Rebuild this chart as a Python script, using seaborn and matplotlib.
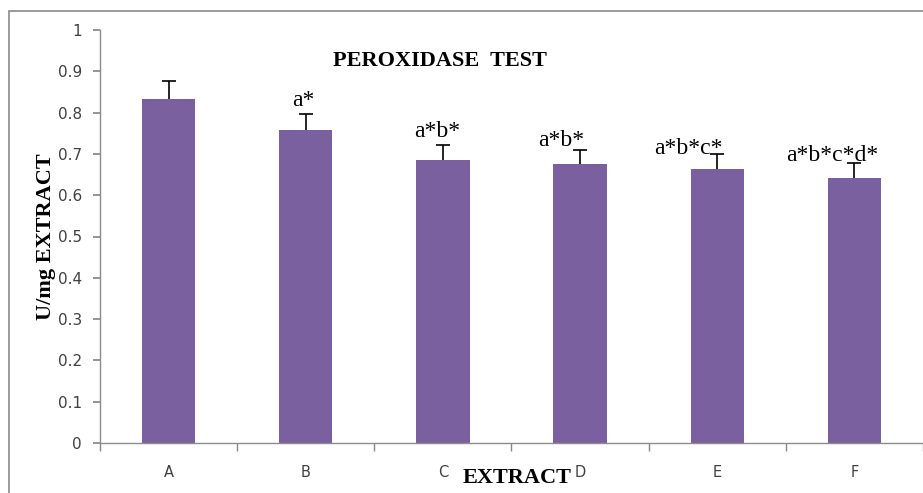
import matplotlib
matplotlib.use("Agg")
import matplotlib.pyplot as plt
import seaborn as sns
import pandas as pd
from matplotlib.patches import Rectangle

categories = ["A", "B", "C", "D", "E", "F"]
values = [0.833, 0.758, 0.685, 0.675, 0.663, 0.642]
errors = [0.043, 0.039, 0.037, 0.034, 0.037, 0.036]
annotations = ["", "a*", "a*b*", "a*b*", "a*b*c*", "a*b*c*d*"]
yticks = [0, 0.1, 0.2, 0.3, 0.4, 0.5, 0.6, 0.7, 0.8, 0.9, 1]
ytick_labels = ["0", "0.1", "0.2", "0.3", "0.4", "0.5", "0.6", "0.7", "0.8", "0.9", "1"]

# label placement offsets (style only): x shift in category units, y shift in data units
label_dx = [0, -0.02, -0.04, -0.14, -0.21, -0.16]
label_dy = [0, 0.008, 0.008, -0.002, -0.012, -0.008]

df = pd.DataFrame({"extract": categories, "value": values})

sns.set_theme(style="white")
plt.rcParams['font.family'] = ['DejaVu Sans']

fig = plt.figure(figsize=(9.23, 4.93), dpi=100)
ax = fig.add_axes([100/923, 50/493, 823/923, 413/493])

bar_color = "#7B60A0"
sns.barplot(data=df, x="extract", y="value", color=bar_color, width=0.39,
            saturation=1, ax=ax, errorbar=None)
for p in ax.patches:
    p.set_edgecolor("none")

eb = ax.errorbar(range(len(categories)), values, yerr=[[0]*len(errors), errors],
                 fmt="none", ecolor="black", elinewidth=1.2, capsize=5, capthick=1.2)
caplines = eb[1]
if len(caplines) == 2:
    caplines[0].set_visible(False)

for i, (v, e, t) in enumerate(zip(values, errors, annotations)):
    if t:
        ax.text(i + label_dx[i], v + e + label_dy[i], t, ha="center", va="bottom",
                fontsize=17, family="Liberation Serif", color="black")

ax.set_ylim(0, 1)
ax.set_xlim(-0.5, 5.44)
ax.set_yticks(yticks)
ax.set_yticklabels(ytick_labels)
ax.set_xticks([i + 0.5 for i in range(-1, 6)], minor=True)
ax.tick_params(axis="x", which="major", length=0, pad=16, labelsize=10.5, labelcolor="#404040")
ax.tick_params(axis="x", which="minor", length=6, color="#888888", direction="out", bottom=True)
ax.tick_params(axis="y", length=5, color="#888888", direction="out", left=True,
               labelsize=11, labelcolor="#404040", pad=8)

for s in ["top", "right"]:
    ax.spines[s].set_visible(False)
for s in ["left", "bottom"]:
    ax.spines[s].set_color("#8c8c8c")
    ax.spines[s].set_linewidth(1.0)

ax.set_xlabel("")
ax.set_ylabel("U/mg EXTRACT", fontsize=16, fontweight="bold", family="Liberation Serif",
              color="black", labelpad=1)
fig.text(517/923, 1 - 478/493, "EXTRACT", ha="center", va="center", fontsize=16,
         fontweight="bold", family="Liberation Serif", color="black")
fig.text(440/923, 1 - 61/493, "PEROXIDASE  TEST", ha="center", va="center", fontsize=16,
         fontweight="bold", family="Liberation Serif", color="black")

fig.patches.append(Rectangle((9/923, -0.1), 1.2, 1 - 11/493 + 0.1, transform=fig.transFigure,
                             fill=False, edgecolor="#8a8a8a", linewidth=1.2, figure=fig))

fig.savefig("out.png", dpi=100)
